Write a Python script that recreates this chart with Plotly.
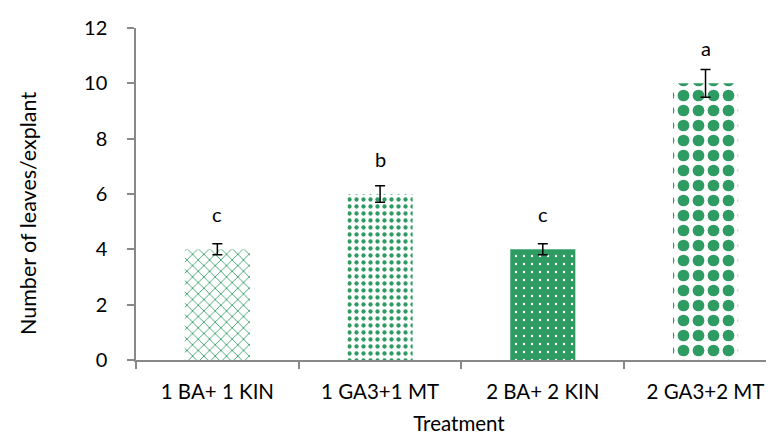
import plotly.graph_objects as go

treatments = ["1 BA+ 1 KIN", "1 GA3+1 MT", "2 BA+ 2 KIN", "2 GA3+2 MT"]
leaves = [4.0, 6.0, 4.0, 10.0]
errors = [0.2, 0.3, 0.2, 0.5]
letters = ["c", "b", "c", "a"]

GREEN = "#2E9B62"
FONT = "Lato"
AXIS = "#888888"

patterns = [
    dict(shape="x", fgcolor=GREEN, bgcolor="white", size=8, solidity=0.2, fillmode="replace"),
    dict(shape=".", fgcolor=GREEN, bgcolor="white", size=7, solidity=0.3, fillmode="replace"),
    dict(shape=".", fgcolor="white", bgcolor=GREEN, size=8, solidity=0.07, fillmode="replace"),
    dict(shape=".", fgcolor=GREEN, bgcolor="white", size=15, solidity=0.48, fillmode="replace"),
]

fig = go.Figure()
for i, t in enumerate(treatments):
    fig.add_trace(go.Bar(
        x=[t], y=[leaves[i]],
        width=0.4,
        marker=dict(color=GREEN, line=dict(width=0), pattern=patterns[i]),
        error_y=dict(type="data", array=[errors[i]], color="black", thickness=1.5, width=5),
        showlegend=False,
    ))

for t, v, l in zip(treatments, leaves, letters):
    fig.add_annotation(x=t, y=v, text=l, showarrow=False, yanchor="middle",
                       yshift=35, font=dict(family=FONT, size=20, color="black"))

# y-axis title
fig.add_annotation(xref="paper", yref="paper", x=-0.167, y=0.44, text="Number of leaves/explant",
                   textangle=-90, showarrow=False, xanchor="center", yanchor="middle",
                   font=dict(family=FONT, size=21.5, color="black"))

fig.update_layout(
    width=774, height=435,
    margin=dict(l=128, r=0, t=20, b=83),
    plot_bgcolor="white", paper_bgcolor="white",
    font=dict(family=FONT, size=20, color="black"),
    bargap=0.6,
)
fig.update_xaxes(
    type="category", range=[-0.5, 3.47],
    showline=True, linecolor=AXIS, linewidth=1.5,
    ticks="outside", tickson="boundaries", ticklen=7, tickcolor=AXIS, tickwidth=1.5,
    showgrid=False, zeroline=False, automargin=False,
    ticklabelstandoff=13,
    title=dict(text="Treatment", font=dict(family=FONT, size=20.5), standoff=14),
    tickfont=dict(family=FONT, size=20.5),
)
fig.update_yaxes(
    range=[0, 12], dtick=2,
    showline=True, linecolor=AXIS, linewidth=1.5,
    ticks="outside", ticklen=7, tickcolor=AXIS, tickwidth=1.5,
    showgrid=False, zeroline=False, automargin=False,
    ticklabelstandoff=16,
    tickfont=dict(family=FONT, size=20),
)

fig.write_html("out.html")
